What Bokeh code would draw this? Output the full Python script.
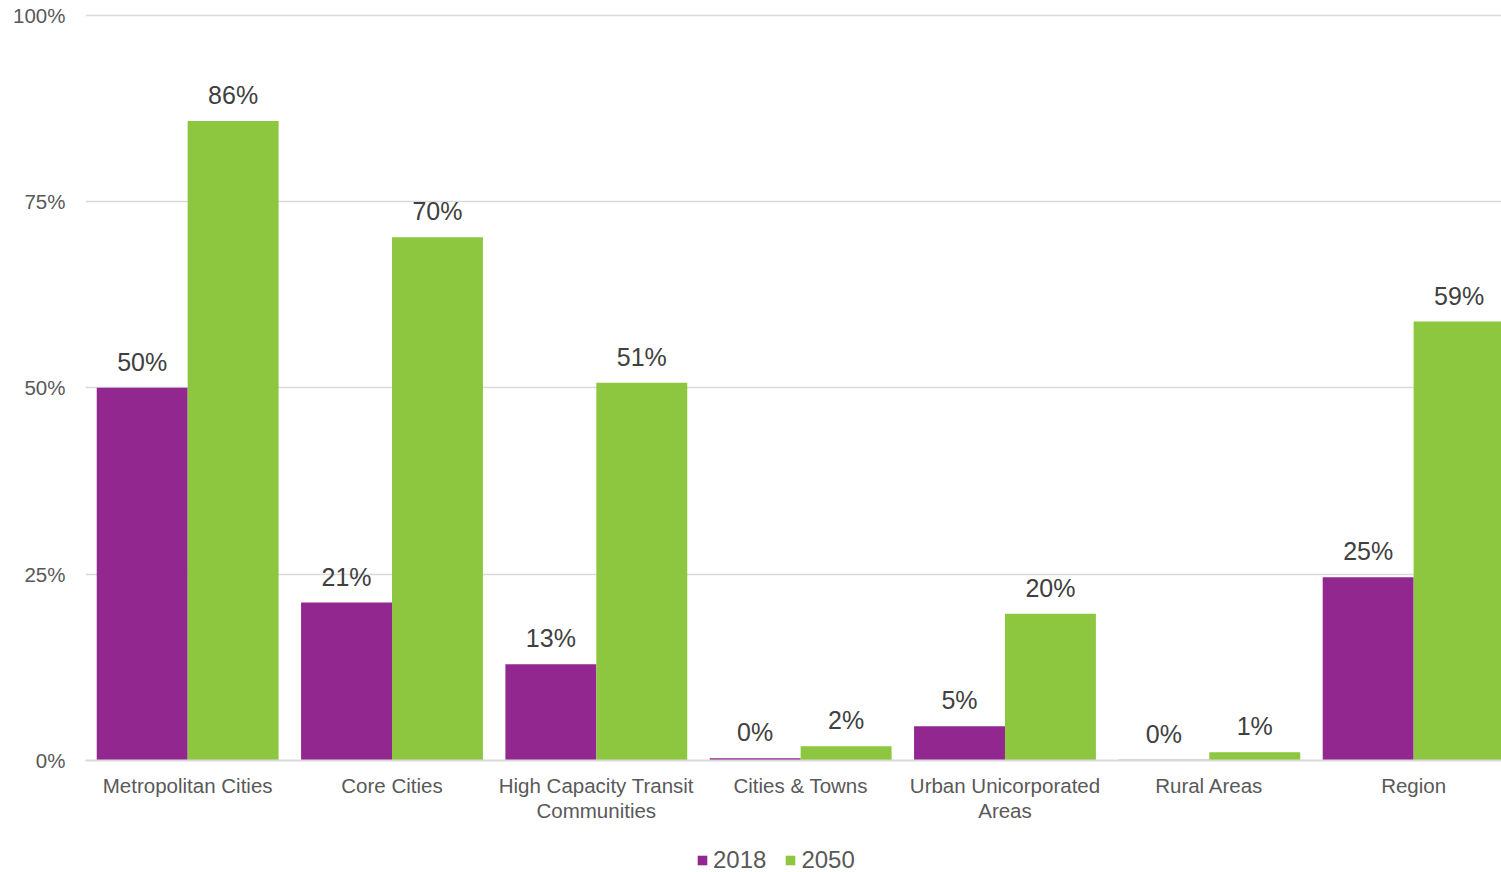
from bokeh.plotting import figure
from bokeh.layouts import column
from bokeh.models import (ColumnDataSource, Range1d, FixedTicker, PrintfTickFormatter,
                          Legend, LegendItem, LabelSet)
from bokeh.transform import dodge
from bokeh.core.properties import value
from bokeh.embed import file_html
from bokeh.resources import INLINE

categories = ["Metropolitan Cities", "Core Cities", "High Capacity Transit\nCommunities",
              "Cities & Towns", "Urban Unicorporated\nAreas", "Rural Areas", "Region"]
share_2018 = [50.0, 21.2, 12.9, 0.3, 4.6, 0.1, 24.6]
share_2050 = [85.8, 70.2, 50.7, 1.9, 19.7, 1.1, 58.9]
series_names = ["2018", "2050"]
y_ticks = [0, 25, 50, 75, 100]

PURPLE = "#92278F"
GREEN = "#8DC63F"
FONT = "Liberation Sans"

idx = list(range(len(categories)))
src = ColumnDataSource(dict(
    x=idx,
    y18=share_2018,
    y50=share_2050,
    l18=[f"{round(v):.0f}%" for v in share_2018],
    l50=[f"{round(v):.0f}%" for v in share_2050],
))

p = figure(frame_width=1416, frame_height=749, output_backend="svg", toolbar_location=None,
           x_range=Range1d(-0.5, 6.43), y_range=Range1d(0, 100.5),
           min_border_left=85, min_border_right=0, min_border_top=11, min_border_bottom=75)
p.outline_line_color = None
p.background_fill_color = "white"

bw = 0.445
off = 0.2225
r18 = p.vbar(x=dodge("x", -off), top="y18", width=bw, source=src,
             fill_color=PURPLE, line_color=None)
r50 = p.vbar(x=dodge("x", off), top="y50", width=bw, source=src,
             fill_color=GREEN, line_color=None)

for col, lab, o in (("y18", "l18", -off), ("y50", "l50", off)):
    ls = LabelSet(x=dodge("x", o), y=col, text=lab, source=src,
                  text_align="center", text_baseline="alphabetic", y_offset=17,
                  text_font=value(FONT), text_font_size="25px", text_color="#404040")
    p.add_layout(ls)

# y axis
p.yaxis.ticker = FixedTicker(ticks=y_ticks)
p.yaxis.formatter = PrintfTickFormatter(format="%d%%")
p.yaxis.axis_line_color = None
p.yaxis.major_tick_line_color = None
p.yaxis.minor_tick_line_color = None
p.yaxis.major_tick_out = 0
p.yaxis.major_tick_in = 0
p.yaxis.major_label_standoff = 20
p.yaxis.major_label_text_font = FONT
p.yaxis.major_label_text_font_size = "20.5px"
p.yaxis.major_label_text_color = "#595959"

# x axis
p.xaxis.ticker = FixedTicker(ticks=idx)
p.xaxis.major_label_overrides = {i: c for i, c in zip(idx, categories)}
p.xaxis.axis_line_color = "#d9d9d9"
p.xaxis.axis_line_width = 2
p.xaxis.major_tick_line_color = None
p.xaxis.minor_tick_line_color = None
p.xaxis.major_tick_out = 0
p.xaxis.major_tick_in = 0
p.xaxis.major_label_standoff = 13
p.xaxis.major_label_text_font = FONT
p.xaxis.major_label_text_font_size = "20.5px"
p.xaxis.major_label_text_color = "#595959"
p.xaxis.major_label_text_line_height = 1.1

p.xgrid.grid_line_color = None
p.ygrid.grid_line_color = "#d9d9d9"
p.ygrid.grid_line_width = 1.5

# legend strip (separate figure so it is not clipped); its bars lie outside its view
lg = figure(width=1501, height=37, output_backend="svg", toolbar_location=None,
            x_range=Range1d(-0.5, 6.43), y_range=Range1d(200, 201),
            min_border_left=0, min_border_right=0, min_border_top=0, min_border_bottom=0,
            x_axis_location=None, y_axis_location=None)
lg.outline_line_color = None
lg.xgrid.visible = False
lg.ygrid.visible = False
d18 = lg.vbar(x=dodge("x", -off), top="y18", width=bw, source=src,
              fill_color=PURPLE, line_color=None)
d50 = lg.vbar(x=dodge("x", off), top="y50", width=bw, source=src,
              fill_color=GREEN, line_color=None)
legend = Legend(items=[LegendItem(label=series_names[0], renderers=[d18]),
                       LegendItem(label=series_names[1], renderers=[d50])],
                orientation="horizontal", location=(611, -2),
                glyph_width=12, glyph_height=12, label_standoff=5, spacing=18,
                padding=0, margin=0, border_line_color=None, background_fill_alpha=0,
                label_height=24,
                label_text_font=FONT, label_text_font_size="24px", label_text_color="#595959")
lg.add_layout(legend, "center")

layout = column(p, lg, spacing=0)
open("out.html", "w").write(file_html(layout, INLINE))
